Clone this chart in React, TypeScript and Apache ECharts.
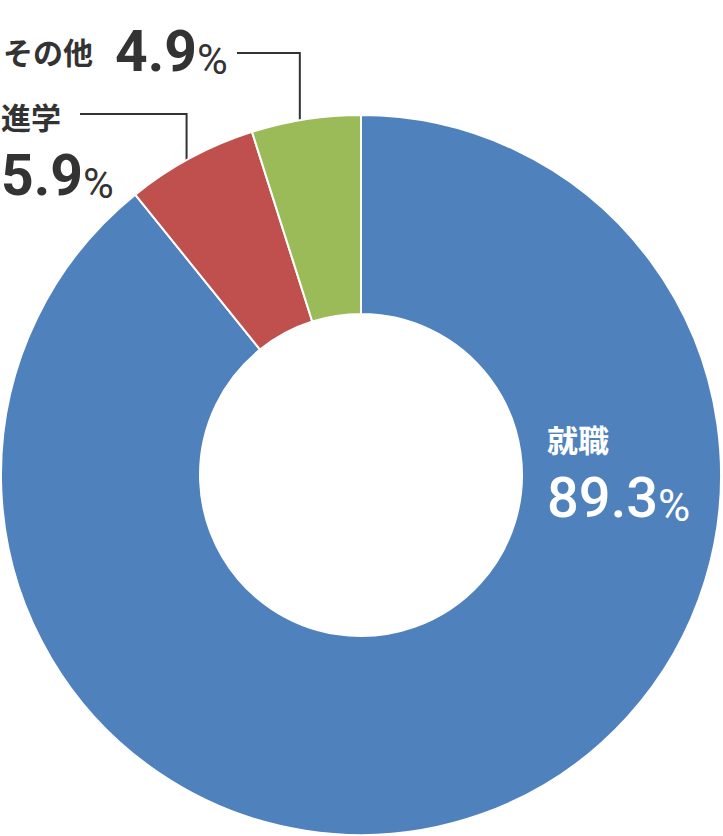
import React, { useEffect, useRef } from "react";
import * as echarts from "echarts";

// Share of graduates by destination (%)
const categories = ["就職", "進学", "その他"];
const shares = [89.3, 5.9, 4.9];
const colors = ["#4F81BD", "#C0504D", "#9BBB59"];

// Ring geometry
const CENTER: [number, number] = [361, 475];
const RADII: [number, number] = [161, 360];

// Leader-line anchor: fraction through each slice (clockwise) and radius
const ANCHOR_FRACTION = 0.39;
const ANCHOR_RADIUS = [0, 343, 328];

const total = shares.reduce((a, b) => a + b, 0);

function anchorPoint(index: number): [number, number] {
  let start = 0;
  for (let i = 0; i < index; i++) start += shares[i];
  const frac = (start + shares[index] * ANCHOR_FRACTION) / total;
  const theta = frac * Math.PI * 2;
  const r = ANCHOR_RADIUS[index];
  return [CENTER[0] + r * Math.sin(theta), CENTER[1] - r * Math.cos(theta)];
}

const DIGIT_FONT = "Roboto, 'Noto Sans', sans-serif";
const JP_FONT = "'Noto Sans CJK JP', sans-serif";

export default function App() {
  const ref = useRef<HTMLDivElement>(null);

  useEffect(() => {
    if (!ref.current) return;
    const chart = echarts.init(ref.current, null, { renderer: "svg" });

    const dark = "#333333";
    const rich = {
      name: { fontFamily: JP_FONT, fontSize: 30, fontWeight: "bold", color: dark, lineHeight: 42, verticalAlign: "middle" },
      val: { fontFamily: DIGIT_FONT, fontSize: 57, fontWeight: "bold", color: dark, lineHeight: 76, verticalAlign: "middle" },
      pct: { fontFamily: DIGIT_FONT, fontSize: 42, fontWeight: "normal", color: dark, lineHeight: 56, verticalAlign: "middle", padding: [16, 0, 0, 0] },
      nameW: { fontFamily: JP_FONT, fontSize: 31, fontWeight: "bold", color: "#fff", lineHeight: 36, verticalAlign: "middle" },
      valW: { fontFamily: DIGIT_FONT, fontSize: 56, fontWeight: 500, color: "#fff", lineHeight: 83, verticalAlign: "middle" },
      pctW: { fontFamily: DIGIT_FONT, fontSize: 44, fontWeight: "normal", color: "#fff", lineHeight: 60, verticalAlign: "middle", padding: [16, 0, 0, 0] },
      gap: { fontSize: 20, width: 22 },
    };

    const formatters = [
      (n: string, v: number) => `{nameW|${n}}\n{valW|${v.toFixed(1)}}{pctW|%}`,
      (n: string, v: number) => `{name|${n}}\n{val|${v.toFixed(1)}}{pct|%}`,
      (n: string, v: number) => `{name|${n}}{gap|}{val|${v.toFixed(1)}}{pct|%}`,
    ];

    chart.setOption({
      animation: false,
      series: [
        {
          type: "pie",
          center: CENTER,
          radius: RADII,
          startAngle: 90,
          clockwise: true,
          avoidLabelOverlap: false,
          itemStyle: { borderColor: "#fff", borderWidth: 2 },
          label: {
            show: true,
            position: "outside",
            rich,
            formatter: (p: any) => formatters[p.dataIndex](p.name, p.value),
          },
          labelLine: {
            show: true,
            smooth: false,
            lineStyle: { color: dark, width: 2 },
          },
          labelLayout: (p: any) => {
            const i = p.dataIndex;
            if (i === 0) {
              return { x: 547, y: 420, align: "left", verticalAlign: "top", labelLinePoints: [] };
            }
            const a = anchorPoint(i);
            if (i === 1) {
              return {
                x: 1,
                y: 95,
                align: "left",
                verticalAlign: "top",
                labelLinePoints: [a, [a[0], 114], [80, 114]],
              };
            }
            return {
              x: 3,
              y: 51,
              align: "left",
              verticalAlign: "middle",
              labelLinePoints: [a, [a[0], 53], [237, 53]],
            };
          },
          data: categories.map((name, i) => ({
            name,
            value: shares[i],
            itemStyle: { color: colors[i] },
            labelLine: { show: i !== 0 },
          })),
        },
      ],
    });

    return () => chart.dispose();
  }, []);

  return (
    <div
      ref={ref}
      style={{ position: "absolute", left: 0, top: 0, width: 723, height: 836 }}
    />
  );
}
